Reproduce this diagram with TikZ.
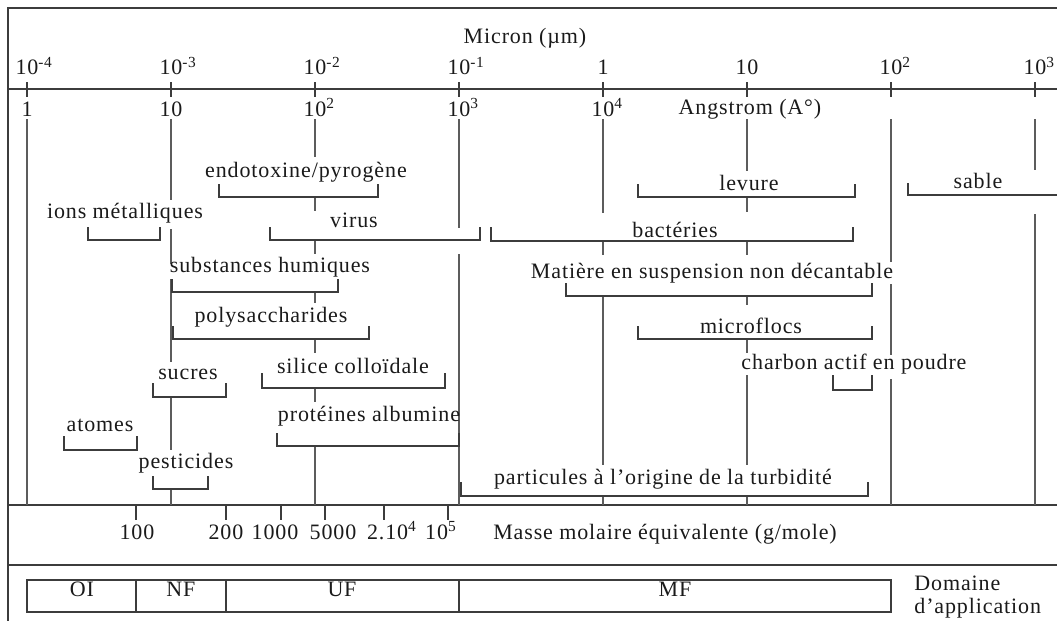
\documentclass[tikz,border=0pt]{standalone}
\usepackage{fontspec}
\setmainfont{Liberation Serif}[LetterSpace=4]
\usetikzlibrary{positioning}
\definecolor{gridgray}{HTML}{5c5c5c}
\definecolor{DarkGray}{HTML}{3c3c3c}
\definecolor{inkblack}{HTML}{1a1a1a}
\tikzset{
  frame/.style={draw=DarkGray, line width=1pt},
  decade/.style={draw=gridgray, line width=1pt},
  axtick/.style={draw=DarkGray, line width=1pt},
  shelf/.style={draw=DarkGray, line width=0.75pt, line join=miter},
  txt/.style={anchor=base, inner sep=0pt, text=inkblack, font=\fontsize{11}{13}\selectfont},
}
\newcommand{\tenp}[1]{10\rlap{\textsuperscript{#1}}}
\newcommand{\shelf}[4]{\draw[shelf] (#1,#3) -- (#1,#4) -- (#2,#4) -- (#2,#3);}

\begin{document}
\begin{tikzpicture}[x=0.5pt, y=-0.5pt]
  \useasboundingbox (0,0) rectangle (1057,621);

  % --- frame ----------------------------------------------------------------
  \draw[frame] (1057,8) -- (8,8) -- (8,621);
  \foreach \yy in {89,505,565} \draw[frame] (8,\yy) -- (1057,\yy);

  % --- scales ---------------------------------------------------------------
  \node[txt] (micron) at (525,43) {Micron (µm)};
  \foreach \k/\up in {0/{\tenp{-4}}, 1/{\tenp{-3}}, 2/{\tenp{-2}}, 3/{\tenp{-1}},
                      4/1, 5/10, 6/{\tenp{2}}, 7/{\tenp{3}}} {
    \pgfmathsetmacro{\xx}{27+144*\k}
    \draw[axtick] (\xx,82) -- (\xx,97);
    \node[txt] (mu-\k) at (\xx,75) {\up};
  }
  \foreach \k/\lo in {0/1, 1/10, 2/{\tenp{2}}, 3/{\tenp{3}}, 4/{\tenp{4}}} {
    \pgfmathsetmacro{\xx}{27+144*\k}
    \node[txt] (ang-\k) at (\xx,116) {\lo};
  }
  \node[txt] (angstrom) at (750,114) {Angstrom (A°)};

  % --- decade lines, cut where the classes sit ------------------------------
  \foreach \xx/\ya/\yb in {27/119/505,
      171/119/200, 171/229/264, 171/279/362, 171/397/450, 171/489/505,
      315/119/157, 315/197/211, 315/240/254, 315/292/303, 315/339/353,
      315/388/402, 315/446/505,
      459/119/228, 459/254/505,
      603/119/213, 603/241/255, 603/296/465, 603/496/505,
      747/119/171, 747/198/212, 747/241/255, 747/296/305, 747/339/353,
      747/375/465, 747/496/505,
      891/119/262, 891/284/355, 891/379/505,
      1035/119/170, 1035/214/505}
    \draw[decade] (\xx,\ya) -- (\xx,\yb);

  % --- size classes ---------------------------------------------------------
  \node[txt] (endo) at (306,177) {endotoxine/pyrogène};
  \shelf{219}{378}{184}{197}
  \node[txt] (levure) at (749,190) {levure};
  \shelf{638}{855}{184}{197}
  \node[txt] (sable) at (978,188) {sable};
  \draw[shelf] (908,183) -- (908,195) -- (1057,195);

  \node[txt] (ions) at (125,218) {ions métalliques};
  \shelf{88}{160}{227}{240}
  \node[txt] (virus) at (354,227) {virus};
  \shelf{270}{480}{227}{240}
  \node[txt] (bacteries) at (675,237) {bactéries};
  \shelf{491}{853}{227}{241}

  \node[txt] (humiques) at (270,272) {substances humiques};
  \shelf{172}{338}{279}{292}
  \node[txt] (mes) at (712,278) {Matière en suspension non décantable};
  \shelf{566}{872}{283}{296}

  \node[txt] (polysac) at (271,322) {polysaccharides};
  \shelf{173}{369}{326}{339}
  \node[txt] (microflocs) at (751,333) {microflocs};
  \shelf{638}{872}{326}{339}

  \node[txt] (sucres) at (188,379) {sucres};
  \shelf{153}{226}{383}{397}
  \node[txt] (silice) at (353,373) {silice colloïdale};
  \shelf{262}{445}{373}{388}
  \node[txt] (charbon) at (854,369) {charbon actif en poudre};
  \shelf{833}{872}{375}{390}

  \node[txt] (atomes) at (100,431) {atomes};
  \shelf{64}{137}{436}{450}
  \node[txt] (proteines) at (369,421) {protéines albumine};
  \shelf{277}{459}{433}{446}

  \node[txt] (pesticides) at (186,468) {pesticides};
  \shelf{153}{208}{476}{489}
  \node[txt] (particules) at (663,484) {particules à l’origine de la turbidité};
  \shelf{461}{868}{482}{496}

  % --- masse molaire --------------------------------------------------------
  \foreach \xx/\lx/\val [count=\i] in {136/137/100, 226/226/200, 281/275/1000,
      325/333/5000, 384/392/{2.10\textsuperscript{4}}, 448/441/{10\textsuperscript{5}}} {
    \draw[axtick] (\xx,505) -- (\xx,520);
    \node[txt] (mm-\i) at (\lx,539) {\val};
  }
  \node[txt] (masse) at (665,539) {Masse molaire équivalente (g/mole)};

  % --- domaines -------------------------------------------------------------
  \draw[frame] (27,580) rectangle (891,612);
  \foreach \xx in {136,226,459} \draw[frame] (\xx,580) -- (\xx,612);
  \foreach \dom/\xx in {OI/82, NF/181, UF/342, MF/675}
    \node[txt] (dom-\dom) at (\xx,596) {\dom};
  \node[txt, anchor=base west] (domaine) at (914,590) {Domaine};
  \node[txt, anchor=base west] (appli) at (914,613) {d’application};
\end{tikzpicture}
\end{document}
